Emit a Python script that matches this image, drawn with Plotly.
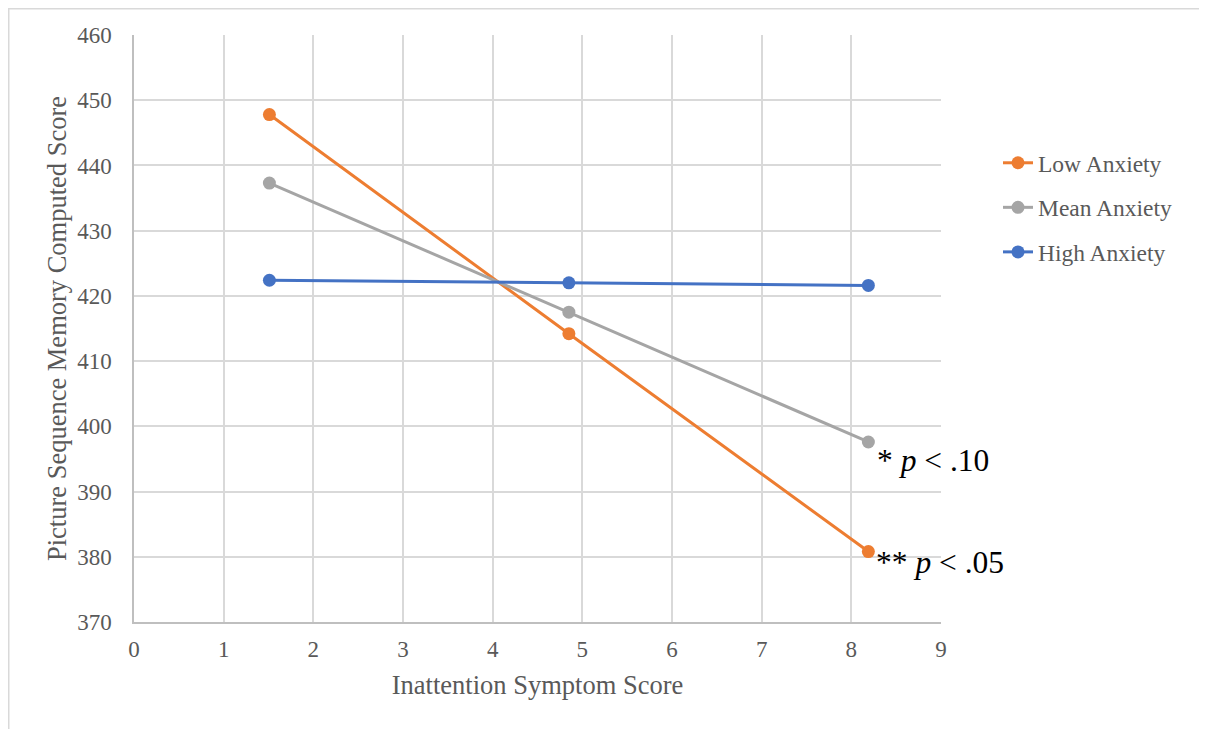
import plotly.graph_objects as go

x_vals = [1.51, 4.85, 8.19]
low_anxiety = [447.8, 414.2, 380.8]
mean_anxiety = [437.3, 417.5, 397.6]
high_anxiety = [422.4, 422.0, 421.6]

series = [
    ("Low Anxiety", low_anxiety, "#ED7D31", "g1"),
    ("Mean Anxiety", mean_anxiety, "#A5A5A5", "g2"),
    ("High Anxiety", high_anxiety, "#4472C4", "g3"),
]

FONT = "Liberation Serif, Times New Roman, serif"

fig = go.Figure()
for name, vals, color, grp in series:
    fig.add_trace(go.Scatter(
        x=x_vals, y=vals, name=name, mode="lines+markers",
        line=dict(color=color, width=3),
        marker=dict(color=color, size=13),
        legendgroup=grp,
    ))

# page has an 8px body margin; work in page coordinates and convert
OFF = 8
W, H = 1207 - OFF, 729 - OFF
PL, PR, PT, PB = 134, 941, 35, 622  # plot area in page pixels
L, T = PL - OFF, PT - OFF
R = W - (PR - OFF)
B = H - (PB - OFF)
pw, ph = W - L - R, H - T - B

def px(xp):
    return (xp - OFF - L) / pw

def py(yp):
    return (H - B - (yp - OFF)) / ph

fig.update_layout(
    width=W, height=H,
    margin=dict(l=L, r=R, t=T, b=B),
    paper_bgcolor="white", plot_bgcolor="white",
    font=dict(family=FONT, color="#595959", size=23),
    showlegend=True,
    legend=dict(
        x=px(998), y=py(141), xanchor="left", yanchor="top",
        font=dict(size=23.5, color="#595959", family=FONT),
        tracegroupgap=11, bgcolor="rgba(0,0,0,0)",
    ),
    xaxis=dict(
        range=[0, 9], dtick=1, tick0=0,
        showgrid=True, gridcolor="#D9D9D9", gridwidth=1.5,
        showline=True, linecolor="#BFBFBF", linewidth=1.5,
        zeroline=False, ticks="outside", ticklen=6, tickcolor="rgba(0,0,0,0)",
        tickfont=dict(size=23, color="#595959"),
        title=dict(text="Inattention Symptom Score", font=dict(size=26.5, color="#595959"), standoff=14),
    ),
    yaxis=dict(
        range=[370, 460], dtick=10,
        showgrid=True, gridcolor="#D9D9D9", gridwidth=1.5,
        showline=True, linecolor="#BFBFBF", linewidth=1.5,
        zeroline=False, ticks="outside", ticklen=16, tickcolor="rgba(0,0,0,0)",
        tickfont=dict(size=23, color="#595959"),
        title=dict(text="Picture Sequence Memory Computed Score", font=dict(size=26.5, color="#595959"), standoff=3),
    ),
    shapes=[
        dict(type="line", xref="paper", yref="paper",
             x0=px(OFF + 0.5), x1=px(OFF + 0.5), y0=py(729), y1=py(OFF),
             line=dict(color="#D9D9D9", width=2)),
        dict(type="line", xref="paper", yref="paper",
             x0=px(OFF), x1=px(1207), y0=py(OFF + 0.5), y1=py(OFF + 0.5),
             line=dict(color="#D9D9D9", width=2)),
    ],
    annotations=[
        dict(x=px(875), y=py(460), xref="paper", yref="paper", xanchor="left", yanchor="middle",
             text="* <i>p</i> < .10", showarrow=False, font=dict(size=31.5, color="black", family=FONT)),
        dict(x=px(874), y=py(562), xref="paper", yref="paper", xanchor="left", yanchor="middle",
             text="** <i>p</i> < .05", showarrow=False, font=dict(size=31.5, color="black", family=FONT)),
    ],
)

fig.write_html("out.html")
